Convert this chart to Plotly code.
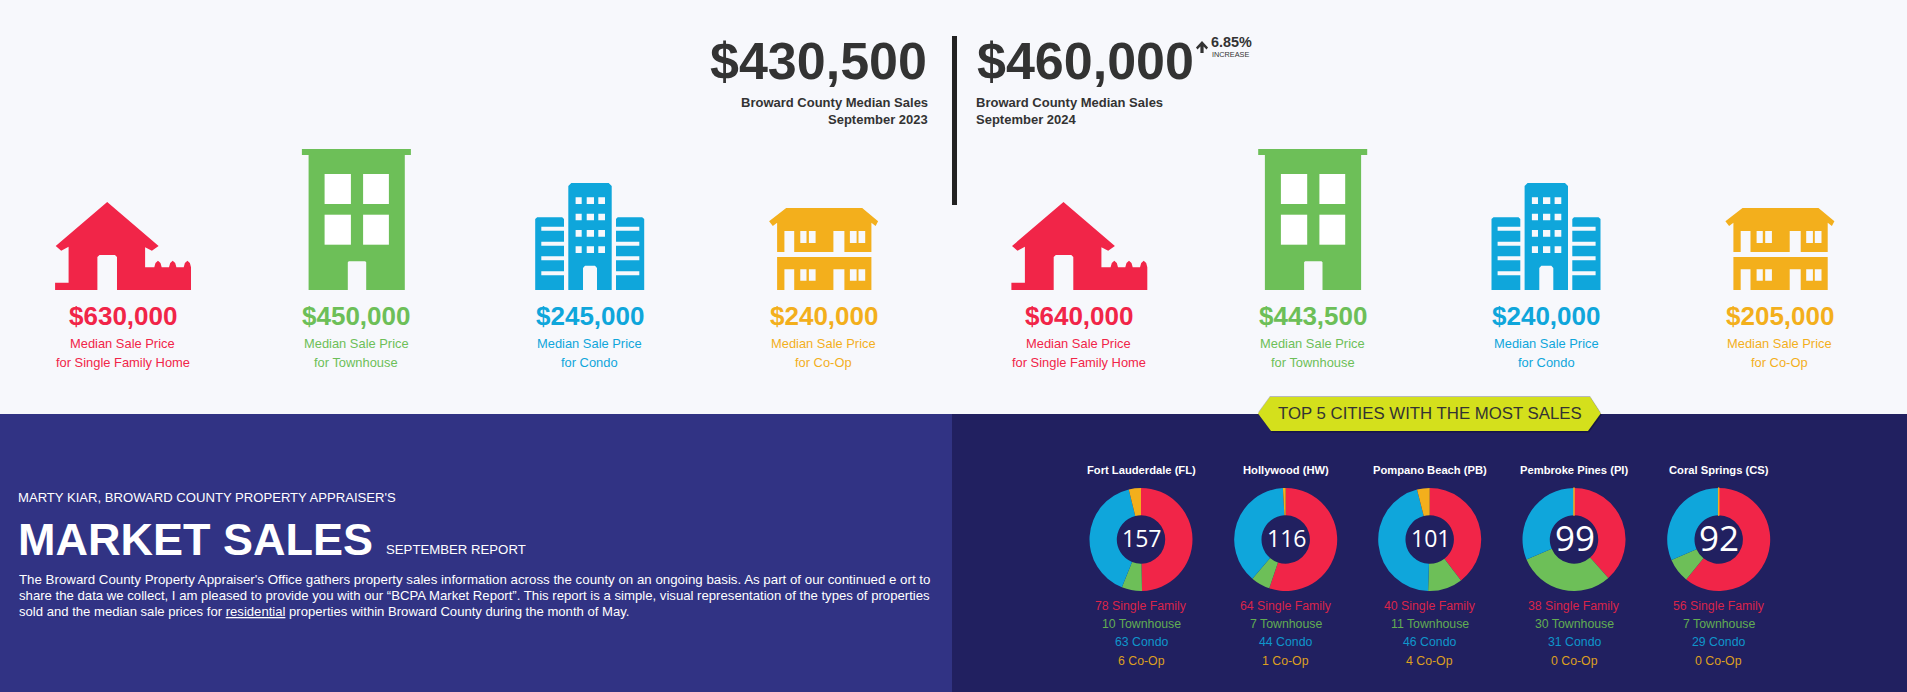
"""Broward County market sales infographic, drawn on paper coordinates with pies for the city splits."""
import plotly.graph_objects as go

W, H = 1907, 692

TOP_BG = "#f7f8fc"
LEFT_BG = "#313384"
RIGHT_BG = "#212060"
RED, GREEN, BLUE, ORANGE = "#f12548", "#6dbf58", "#0fa6db", "#f3af1c"
DARK = "#333333"
ARIAL = "Liberation Sans, Arial, sans-serif"

TYPE_COLORS = [RED, GREEN, BLUE, ORANGE]
# the small city counts read a touch dimmer on the dark panel
COUNT_COLORS = ["#d9244a", "#62ad52", "#0f96cb", "#dc9f1f"]
TYPE_NAMES = ["Single Family", "Townhouse", "Condo", "Co-Op"]
LONG_NAMES = ["for Single Family Home", "for Townhouse", "for Condo", "for Co-Op"]

PRICES_2023 = ["$630,000", "$450,000", "$245,000", "$240,000"]
PRICES_2024 = ["$640,000", "$443,500", "$240,000", "$205,000"]

CITIES = ["Fort Lauderdale (FL)", "Hollywood (HW)", "Pompano Beach (PB)", "Pembroke Pines (PI)", "Coral Springs (CS)"]
SINGLE_FAMILY = [78, 64, 40, 38, 56]
TOWNHOUSE = [10, 7, 11, 30, 7]
CONDO = [63, 44, 46, 31, 29]
COOP = [6, 1, 4, 0, 0]
CITY_TOTALS = [157, 116, 101, 99, 92]

# icon outlines: (offset from column centre, absolute y) in page pixels
HOUSE = [(-67.4, 290), (-67.4, 282.7), (-53.9, 282.7), (-53.9, 246.7), (-61.3, 250.7), (-66.8, 246), (-15.3, 202),
         (36.1, 246), (29.4, 250.7), (22.6, 247.3), (22.6, 267.3), (31.8, 267.3), (33, 263), (35.5, 260.7), (38, 263),
         (39.2, 267.3), (46.5, 267.3), (47.7, 263), (50.2, 260.7), (52.7, 263), (53.9, 267.3), (61.2, 267.3),
         (62.4, 263), (64.9, 260.7), (67.4, 263), (68.5, 267.3), (68.5, 290), (-5.5, 290), (-5.5, 257), (-7.5, 255),
         (-23, 255), (-25.1, 257), (-25.1, 290)]
BUILDING = [(-54.5, 149), (54.5, 149), (54.5, 155), (48.4, 155), (48.4, 290), (9.8, 290), (9.8, 262.3), (8.8, 261.3),
            (-7.6, 261.3), (-8.6, 262.3), (-8.6, 290), (-47.8, 290), (-47.8, 155), (-54.5, 155)]
BUILDING_WINDOWS = [(-31.8, 174, -5.5, 204), (6.7, 174, 32.5, 204), (-31.8, 214.7, -5.5, 244.7), (6.7, 214.7, 32.5, 244.7)]
TOWER = [(-21.4, 290), (-21.4, 186), (-18.4, 183), (19, 183), (22, 186), (22, 290), (7.3, 290), (7.3, 268), (5.3, 265.7),
         (-4.7, 265.7), (-6.7, 268), (-6.7, 290)]
WING_LEFT = [(-54.5, 290), (-54.5, 219), (-52.5, 217.3), (-27.5, 217.3), (-25.7, 219), (-25.7, 226.7), (-48.4, 226.7),
             (-48.4, 230.7), (-25.7, 230.7), (-25.7, 241.7), (-48.4, 241.7), (-48.4, 245.7), (-25.7, 245.7), (-25.7, 256.3),
             (-48.4, 256.3), (-48.4, 260.3), (-25.7, 260.3), (-25.7, 271.3), (-48.4, 271.3), (-48.4, 275.3), (-25.7, 275.3),
             (-25.7, 290)]
WING_RIGHT = [(54.5, 290), (54.5, 219), (52.5, 217.3), (28, 217.3), (26.3, 219), (26.3, 226.7), (49.6, 226.7),
              (49.6, 230.7), (26.3, 230.7), (26.3, 241.7), (49.6, 241.7), (49.6, 245.7), (26.3, 245.7), (26.3, 256.3),
              (49.6, 256.3), (49.6, 260.3), (26.3, 260.3), (26.3, 271.3), (49.6, 271.3), (49.6, 275.3), (26.3, 275.3),
              (26.3, 290)]
TOWER_COLS = [(-14.1, -8), (-3, 4.3), (8.6, 15.3)]
TOWER_ROWS = [(197.3, 204), (213.7, 220.3), (230, 236.7), (246.3, 253)]
COOP_ROOF_UP = [(-37.4, 208), (38.6, 208), (54.5, 221.3), (52, 226), (47.8, 222.7), (47.8, 252), (20.8, 252), (20.8, 231),
                (9.8, 231), (9.8, 252), (-29.4, 252), (-29.4, 231), (-39.2, 231), (-39.2, 252), (-46.5, 252), (-46.5, 222.7),
                (-50.8, 226), (-54.5, 221.3)]
COOP_LOWER = [(-46.5, 257), (47.8, 257), (47.8, 290), (20.8, 290), (20.8, 269.3), (9.8, 269.3), (9.8, 290), (-29.4, 290),
              (-29.4, 269.3), (-39.2, 269.3), (-39.2, 290), (-46.5, 290)]
COOP_WINDOW_COLS = [(-23.3, -17.1), (-14.7, -8), (26.3, 33), (34.9, 41.6)]

COLUMN_X = [122.5, 356.4, 589.7, 823.6]
GROUP_SHIFT = 956.3
PIE_X = [1141, 1285.7, 1429.7, 1574, 1718.7]
PIE_Y = 539.5
PIE_R = 51.5


def poly(points, cx=0.0):
    return "M" + " L".join(f"{(cx + dx) / W:.5f},{1 - y / H:.5f}" for dx, y in points) + " Z"


def box(x0, y0, x1, y1, cx=0.0):
    return poly([(x0, y0), (x1, y0), (x1, y1), (x0, y1)], cx)


def path_shape(path, color):
    return dict(type="path", path=path, xref="paper", yref="paper", fillcolor=color, line=dict(width=0), layer="below")


def label(x, y, text, size, color, anchor="center", bold=False, family=ARIAL):
    return dict(
        x=x / W, y=1 - y / H, xref="paper", yref="paper", text=f"<b>{text}</b>" if bold else text, showarrow=False,
        xanchor=anchor, yanchor="middle", borderpad=0, font=dict(size=size, color=color, family=family),
    )


def icon_shapes(cx):
    shapes = [path_shape(poly(HOUSE, cx[0]), RED)]

    shapes.append(path_shape(poly(BUILDING, cx[1]), GREEN))
    for x0, y0, x1, y1 in BUILDING_WINDOWS:
        shapes.append(path_shape(box(x0, y0, x1, y1, cx[1]), "#ffffff"))

    tower = poly(TOWER, cx[2])
    for x0, x1 in TOWER_COLS:
        for y0, y1 in TOWER_ROWS:
            tower += " " + box(x0, y0, x1, y1, cx[2])
    shapes.append(path_shape(tower, BLUE))
    shapes.append(path_shape(poly(WING_LEFT, cx[2]), BLUE))
    shapes.append(path_shape(poly(WING_RIGHT, cx[2]), BLUE))

    coop = poly(COOP_ROOF_UP, cx[3]) + " " + poly(COOP_LOWER, cx[3])
    for x0, x1 in COOP_WINDOW_COLS:
        coop += " " + box(x0, 231, x1, 243, cx[3]) + " " + box(x0, 269.3, x1, 280.7, cx[3])
    shapes.append(path_shape(coop, ORANGE))
    return shapes


def main() -> None:
    fig = go.Figure()

    shapes = [
        path_shape(box(0, 414, 952, H), LEFT_BG),
        path_shape(box(952, 414, W, H), RIGHT_BG),
        path_shape(box(952, 36, 957, 205), "#222222"),
    ]
    annotations = [
        label(928.4, 61, "$430,500", 52, DARK, "right", True),
        label(929, 102, "Broward County Median Sales", 13, DARK, "right", True),
        label(929, 119, "September 2023", 13, DARK, "right", True),
        label(976, 61, "$460,000", 52, DARK, "left", True),
        label(975, 102, "Broward County Median Sales", 13, DARK, "left", True),
        label(975, 119, "September 2024", 13, DARK, "left", True),
        label(1209.5, 42, "6.85%", 14.4, DARK, "left", True),
        label(1211, 54, "INCREASE", 7.3, DARK, "left"),
    ]
    # little up arrow next to the increase figure
    shapes.append(path_shape(poly([(1200.4, 53), (1200.4, 46.5), (1197.5, 49.5), (1196, 47.5), (1202, 41), (1208, 47.5),
                                   (1206.5, 49.5), (1203.6, 46.5), (1203.6, 53)]), DARK))

    for prices, shift in ((PRICES_2023, 0.0), (PRICES_2024, GROUP_SHIFT)):
        cols = [x + shift for x in COLUMN_X]
        shapes.extend(icon_shapes(cols))
        for cx, price, name, color in zip(cols, prices, LONG_NAMES, TYPE_COLORS):
            annotations.append(label(cx, 315.5, price, 26, color, bold=True))
            annotations.append(label(cx, 343, "Median Sale Price", 12.9, color))
            annotations.append(label(cx, 362, name, 12.9, color))

    # banner over the top cities panel, with a soft shadow underneath
    banner = [(1270, 397), (1590, 397), (1600.7, 413.5), (1588, 431), (1271, 431), (1258, 413.5)]
    shapes.append(path_shape(poly([(x + 1, y + 1.5) for x, y in banner]), "rgba(10,10,40,0.45)"))
    shapes.append(path_shape(poly([(x, y - 1) for x, y in banner[:3]] + [(1258, 412.5)]), "rgba(120,120,120,0.5)"))
    shapes.append(path_shape(poly(banner), "#d4e01c"))
    annotations.append(label(1429.5, 413, "TOP 5 CITIES WITH THE MOST SALES", 16.8, DARK))

    annotations += [
        label(17, 497, "MARTY KIAR, BROWARD COUNTY PROPERTY APPRAISER'S", 13.1, "#ffffff", "left"),
        label(17, 539, "MARKET SALES", 45, "#ffffff", "left", True),
        label(384.5, 549.5, "SEPTEMBER REPORT", 13.2, "#ffffff", "left"),
        label(17.5, 579, "The Broward County Property Appraiser's Office gathers property sales information across the county on an ongoing basis. As part of our continued e ort to", 13.3, "#ffffff", "left"),
        label(17.5, 595.5, "share the data we collect, I am pleased to provide you with our “BCPA Market Report”. This report is a simple, visual representation of the types of properties", 13.16, "#ffffff", "left"),
        label(17.5, 611.7, "sold and the median sale prices for <u>residential</u> properties within Broward County during the month of May.", 13.1, "#ffffff", "left"),
    ]

    for i, city in enumerate(CITIES):
        cx = PIE_X[i]
        values = [SINGLE_FAMILY[i], TOWNHOUSE[i], CONDO[i], COOP[i]]
        fig.add_trace(go.Pie(
            values=values,
            labels=TYPE_NAMES,
            sort=False,
            direction="clockwise",
            rotation=0,
            hole=0.47,
            textinfo="none",
            hoverinfo="label+value",
            marker=dict(colors=TYPE_COLORS, line=dict(color=ORANGE, width=[0, 0, 0, 1.5 if COOP[i] == 0 else 0])),
            domain=dict(x=[(cx - PIE_R) / W, (cx + PIE_R) / W], y=[1 - (PIE_Y + PIE_R) / H, 1 - (PIE_Y - PIE_R) / H]),
        ))
        annotations.append(label(cx, 470, city, 11.2, "#ffffff", bold=True))
        total_size = 23 if CITY_TOTALS[i] >= 100 else 35
        annotations.append(label(cx + 0.5, PIE_Y - 2, str(CITY_TOTALS[i]), total_size, "#ffffff", family="Open Sans, sans-serif"))
        for y, value, name, color in zip((605.7, 623.7, 641.7, 660.7), values, TYPE_NAMES, COUNT_COLORS):
            annotations.append(label(cx, y, f"{value} {name}", 12.3, color))

    fig.update_layout(
        width=W, height=H,
        margin=dict(l=0, r=0, t=0, b=0),
        paper_bgcolor=TOP_BG,
        plot_bgcolor=TOP_BG,
        showlegend=False,
        shapes=shapes,
        annotations=annotations,
    )
    fig.write_html(
        "out.html",
        config={"displayModeBar": False},
        post_script="document.body.style.margin='0';document.body.style.overflow='hidden';",
    )


if __name__ == "__main__":
    main()
